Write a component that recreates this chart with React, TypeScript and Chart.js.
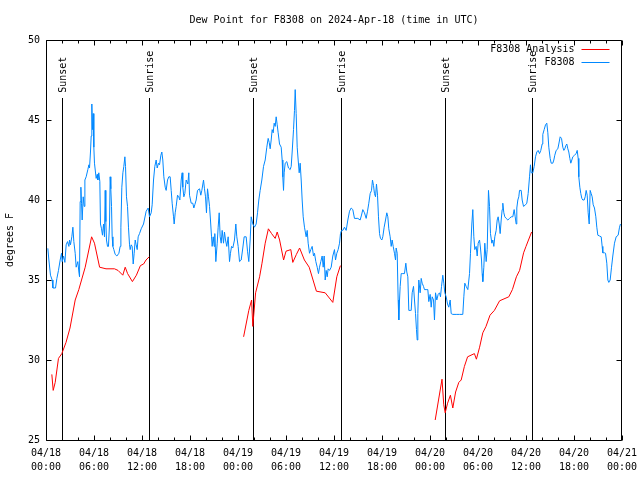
import React, { useEffect, useRef } from "react";
import { Chart, registerables } from "chart.js";

Chart.register(...registerables);

const TITLE = "Dew Point for F8308 on 2024-Apr-18 (time in UTC)";
const Y_TITLE = "degrees F";
const ANALYSIS_LABEL = "F8308 Analysis";
const STATION_LABEL = "F8308";
const ANALYSIS_COLOR = "#ff0000";
const STATION_COLOR = "#0088ff";

// x axis: hours since 2024-04-18 00:00 UTC
const X_MIN = 0;
const X_MAX = 72;
const xTickHours = [0, 6, 12, 18, 24, 30, 36, 42, 48, 54, 60, 66, 72];
const xTickLabels = [
  ["04/18", "00:00"], ["04/18", "06:00"], ["04/18", "12:00"], ["04/18", "18:00"],
  ["04/19", "00:00"], ["04/19", "06:00"], ["04/19", "12:00"], ["04/19", "18:00"],
  ["04/20", "00:00"], ["04/20", "06:00"], ["04/20", "12:00"], ["04/20", "18:00"],
  ["04/21", "00:00"],
];
const xMinorTickHours = [
  0, 2, 4, 6, 8, 10, 12, 14, 16, 18, 20, 22, 24, 26, 28, 30, 32, 34, 36,
  38, 40, 42, 44, 46, 48, 50, 52, 54, 56, 58, 60, 62, 64, 66, 68, 70, 72,
];
const yTicks = [25, 30, 35, 40, 45, 50];
const Y_MIN = 25;
const Y_MAX = 50;

// Sun events (hours) and labels
const sunEventHours = [1.98, 12.86, 25.87, 36.88, 49.89, 60.77];
const sunEventLabels = ["Sunset", "Sunrise", "Sunset", "Sunrise", "Sunset", "Sunrise"];
const SUN_LINE_TOP = 46.35;
const SUN_LABEL_START = 46.7;

// F8308 Analysis (red), null = gap
const analysisHours = [
  0.73, 0.9, 1.15, 1.56, 1.98, 2.5, 3.0, 3.65, 4.1, 4.9, 5.7, 6.06, 6.7, 7.5, 8.56, 9.0, 9.6, 9.9,
  10.2, 10.8, 11.3, 11.8, 12.2, 12.5, 12.9,
  18.0,
  24.7, 25.35, 25.7, 25.85, 26.2, 26.7, 27.0, 27.4, 27.8, 28.2, 28.65, 28.9, 29.2, 29.7, 30.0, 30.6,
  30.85, 31.3, 31.7, 32.3, 32.9, 33.8, 34.9, 35.85, 36.35, 36.8,
  42.0,
  48.65, 49.5, 49.72, 49.9, 50.2, 50.55, 50.85, 51.2, 51.6, 51.9, 52.3, 52.7, 53.55, 53.8, 54.2, 54.6,
  55.0, 55.5, 56.05, 56.7, 57.85, 58.3, 58.8, 59.2, 59.7, 60.0, 60.7,
];
const analysisValues = [
  29.1, 28.1, 28.6, 30.1, 30.4, 31.1, 32.0, 33.75, 34.4, 35.8, 37.7, 37.3, 35.8, 35.7, 35.7, 35.6, 35.3, 35.8,
  35.4, 34.9, 35.3, 35.9, 36.0, 36.25, 36.45,
  null,
  31.45, 33.1, 33.75, 32.1, 34.2, 35.2, 36.05, 37.3, 38.2, 37.9, 37.6, 38.0, 37.5, 36.25, 36.8, 36.9,
  36.1, 36.6, 37.0, 36.25, 35.8, 34.3, 34.2, 33.6, 35.2, 35.9,
  null,
  26.25, 28.8, 27.2, 26.7, 27.3, 27.8, 27.0, 28.0, 28.6, 28.75, 29.6, 30.2, 30.4, 30.05, 30.8, 31.7,
  32.1, 32.8, 33.1, 33.7, 33.95, 34.4, 35.2, 35.6, 36.7, 37.1, 38.0,
];

// F8308 station observations (blue)
const stationHours = [
  0.23, 0.36, 0.56, 0.77, 0.86, 1.19, 1.36, 1.56, 1.77, 1.94, 2.02, 2.19, 2.36, 2.52, 2.69, 2.86, 2.94,
  3.06, 3.23, 3.36, 3.48, 3.65, 3.77, 3.98, 4.11, 4.19, 4.27, 4.36, 4.44, 4.52, 4.65, 4.77, 4.86, 5.02,
  5.23, 5.36, 5.44, 5.56, 5.65, 5.73, 5.81, 5.9, 5.98, 6.06, 6.27, 6.4, 6.48, 6.6, 6.73, 6.81, 6.94,
  7.06, 7.19, 7.31, 7.4, 7.48, 7.56, 7.69, 7.81, 7.94, 8.02, 8.1, 8.19, 8.27, 8.36, 8.48, 8.65, 8.86,
  9.11, 9.27, 9.36, 9.48, 9.61, 9.73, 9.86, 9.94, 10.06, 10.19, 10.31, 10.44, 10.52, 10.65, 10.77, 10.9,
  11.02, 11.15, 11.27, 11.4, 11.52,
  11.69, 11.9, 12.19, 12.52, 12.77, 12.94, 13.15, 13.27, 13.44, 13.6, 13.77, 13.9, 14.06, 14.19, 14.36,
  14.48, 14.6, 14.73, 14.9, 15.02, 15.19, 15.35, 15.52, 15.65, 15.77, 15.94, 16.02, 16.15, 16.27, 16.44,
  16.6, 16.73, 16.9, 17.02, 17.1, 17.23, 17.35, 17.52, 17.73, 17.85, 17.94, 18.15, 18.35, 18.48, 18.6,
  18.77, 18.94, 19.19, 19.35, 19.48, 19.69, 19.81, 19.94, 20.06, 20.19, 20.31, 20.44, 20.56, 20.69, 20.77,
  20.9, 21.02, 21.1, 21.23, 21.4, 21.52, 21.65, 21.77, 21.9, 22.02, 22.19, 22.31, 22.44, 22.6, 22.77,
  22.94, 23.06, 23.19, 23.35, 23.56, 23.73, 23.85, 24.02,
  24.19, 24.4, 24.6, 24.77, 25.02, 25.19, 25.35, 25.52, 25.65, 25.85, 26.06, 26.27, 26.44, 26.6, 26.77,
  26.98, 27.19, 27.4, 27.6, 27.77, 27.9, 28.02, 28.15, 28.27, 28.4, 28.52, 28.65, 28.77, 28.9, 29.02,
  29.19, 29.4, 29.52, 29.6, 29.69, 29.77, 29.9, 30.1, 30.31, 30.52, 30.65, 30.77, 30.94, 31.06, 31.15,
  31.27, 31.4, 31.52, 31.65, 31.77, 31.9, 32.02, 32.15, 32.31, 32.52, 32.65, 32.77, 32.94, 33.1, 33.27,
  33.44, 33.56, 33.73, 33.9, 34.06, 34.19, 34.35, 34.52, 34.65, 34.77, 34.9, 35.02, 35.15, 35.27,
  35.44, 35.65, 35.85, 36.06, 36.19, 36.35, 36.52, 36.69, 36.81, 36.94, 37.1, 37.31, 37.52, 37.73, 37.94,
  38.15, 38.35, 38.56, 38.98, 39.27, 39.44, 39.6, 39.81, 40.02, 40.19, 40.35, 40.52, 40.69, 40.81, 40.94,
  41.06, 41.19, 41.31, 41.44, 41.56, 41.69, 41.81, 41.98, 42.1, 42.27, 42.44, 42.6, 42.73, 42.85, 43.02,
  43.15, 43.27, 43.4, 43.56, 43.69, 43.77, 43.9, 44.02, 44.1, 44.19, 44.27, 44.4, 44.6, 44.81, 44.98,
  45.1, 45.23, 45.35, 45.52, 45.65, 45.77, 45.94, 46.06, 46.19, 46.31, 46.4, 46.48, 46.6,
  46.77, 46.9, 47.02, 47.19, 47.31, 47.52, 47.73, 47.85, 48.02, 48.15, 48.27, 48.44, 48.56, 48.69, 48.85,
  49.02, 49.19, 49.31, 49.44, 49.6, 49.73, 49.85, 50.02, 50.19, 50.35, 50.52, 50.65, 50.85, 51.27, 51.69,
  52.1, 52.23, 52.35, 52.52, 52.73, 52.94, 53.06, 53.23, 53.35, 53.48, 53.6, 53.77, 53.9, 54.02, 54.19,
  54.31, 54.44, 54.52, 54.6, 54.73, 54.85, 55.02, 55.15, 55.31, 55.44, 55.56, 55.73, 55.85, 55.98, 56.1,
  56.27, 56.4, 56.52, 56.65, 56.77, 56.9, 57.02, 57.1, 57.23, 57.35, 57.52, 57.73, 57.94, 58.15, 58.35,
  58.52, 58.65, 58.77, 58.85, 58.98, 59.1,
  59.19, 59.4, 59.52, 59.69, 59.94, 60.1, 60.27, 60.44, 60.56, 60.65, 60.85, 61.02, 61.19, 61.35, 61.52,
  61.69, 61.85, 62.02, 62.1, 62.27, 62.44, 62.6, 62.73, 62.85, 63.02, 63.15, 63.35, 63.48, 63.6, 63.77,
  63.98, 64.1, 64.27, 64.44, 64.6, 64.73, 64.85, 64.98, 65.1, 65.23, 65.35, 65.48, 65.6, 65.73, 65.85,
  66.06, 66.27, 66.4, 66.52, 66.6, 66.73, 66.85, 66.98, 67.1, 67.27, 67.4, 67.52, 67.65, 67.77, 67.9,
  68.02, 68.15, 68.27, 68.4, 68.56, 68.73, 68.85, 68.98, 69.19, 69.4, 69.52, 69.6, 69.81, 69.94, 70.1,
  70.23, 70.35, 70.52, 70.69, 70.85, 71.06, 71.27, 71.52, 71.69, 71.81,
];
const stationValues = [
  36.98, 36.25, 35.3, 35.0, 34.5, 34.5, 35.1, 35.6, 36.25, 36.67, 36.15, 36.5, 36.1, 37.2, 37.4, 37.1, 37.5,
  37.2, 37.7, 38.3, 37.4, 36.67, 35.8, 36.15, 35.5, 35.2, 39.9, 40.8, 39.8, 38.75, 40.2, 39.6, 41.25, 41.45,
  41.9, 42.2, 42.0, 43.0, 44.0, 46.0, 44.4, 45.4, 43.3, 42.3, 41.35, 41.6, 41.25, 41.7, 41.15, 38.5, 38.2,
  37.8, 38.5, 37.7, 40.6, 38.65, 37.5, 37.1, 37.1, 38.5, 41.45, 40.7, 39.6, 37.7, 37.1, 36.9, 36.6, 36.5,
  36.67, 37.1, 38.3, 40.8, 41.7, 42.1, 42.7, 42.1, 40.2, 39.6, 38.3, 37.2, 36.9, 37.2, 37.1, 36.0,
  36.67, 37.5, 37.2, 36.9, 37.7,
  37.9, 38.2, 38.5, 39.3, 39.5, 38.95, 39.2, 39.7, 41.25, 42.1, 42.5, 42.0, 42.3, 42.2, 42.8,
  43.0, 42.5, 41.45, 40.8, 40.6, 41.25, 41.45, 41.45, 40.6, 39.8, 38.95, 38.5, 39.2, 39.6, 40.3,
  40.2, 40.0, 41.25, 41.7, 40.8, 40.2, 40.4, 41.25, 41.0, 41.7, 40.3, 39.8, 39.8, 39.5, 39.7,
  40.0, 40.6, 40.7, 40.3, 40.6, 41.25, 40.7, 40.2, 39.2, 40.7, 40.2, 39.6, 38.75, 37.7, 37.1,
  37.7, 37.1, 37.9, 36.15, 37.3, 38.3, 39.2, 37.7, 37.3, 38.1, 37.3, 38.0, 37.5, 37.1, 37.7,
  36.15, 36.67, 37.1, 37.0, 37.5, 38.5, 37.7, 37.1,
  36.15, 36.25, 37.0, 37.7, 37.7, 36.8, 36.15, 37.5, 38.95, 38.5, 38.3, 38.5, 39.2, 40.0, 40.6,
  41.25, 42.1, 42.5, 43.3, 43.85, 43.6, 43.2, 43.75, 44.4, 44.2, 44.8, 44.6, 45.2, 44.7, 44.2,
  43.5, 43.3, 42.5, 41.45, 40.6, 41.7, 42.3, 42.4, 42.0, 41.9, 42.1, 43.0, 44.4, 45.6, 46.9,
  45.4, 43.3, 42.5, 41.7, 42.3, 41.25, 40.0, 38.95, 38.3, 37.7, 38.1, 37.3, 36.67, 36.9, 37.1,
  36.5, 36.67, 36.15, 35.8, 35.4, 35.8, 36.15, 36.5, 35.8, 36.5, 35.0, 35.6, 35.2, 35.7,
  35.6, 35.8, 36.5, 36.9, 36.25, 36.67, 36.9, 37.3, 37.9, 38.1, 38.1, 38.3, 38.1, 38.75, 39.3,
  39.5, 39.4, 38.85, 38.85, 38.75, 39.06, 39.4, 39.2, 38.85, 39.3, 39.8, 40.4, 40.6, 41.25, 40.9,
  40.4, 40.2, 41.0, 40.3, 38.95, 37.9, 37.6, 37.5, 37.7, 38.3, 38.75, 39.2, 38.95, 38.2, 37.7,
  37.1, 37.5, 37.1, 36.67, 36.25, 37.0, 36.67, 33.75, 32.5, 33.75, 34.6, 35.4, 35.4, 35.4, 36.05,
  35.5, 35.2, 33.1, 33.1, 33.1, 34.2, 34.6, 33.75, 32.9, 31.9, 31.25, 32.9, 35.0,
  34.2, 35.1, 34.8, 34.6, 34.4, 34.4, 34.4, 33.65, 34.1, 33.3, 33.95, 33.75, 32.5, 34.2, 33.75,
  34.1, 34.2, 33.95, 34.6, 35.3, 34.8, 34.2, 33.95, 33.5, 33.3, 33.75, 32.9, 32.85, 32.85, 32.85,
  32.85, 33.95, 34.8, 34.6, 34.4, 35.4, 36.67, 38.5, 39.4, 37.7, 36.9, 37.1, 36.5, 37.3, 37.5,
  37.0, 36.25, 35.4, 34.9, 35.8, 37.3, 36.15, 36.9, 40.6, 39.6, 37.9, 37.3, 37.5, 37.1, 37.7,
  38.1, 38.75, 38.95, 38.5, 37.9, 38.75, 39.4, 39.8, 39.2, 38.95, 38.85, 38.75, 38.85, 38.95, 38.95,
  39.4, 38.95, 38.5, 39.5, 40.0, 40.2,
  40.6, 40.6, 40.0, 39.6, 39.7, 39.8, 40.4, 41.45, 42.2, 41.7, 41.7, 42.1, 42.7, 43.0, 43.1,
  42.9, 43.1, 43.5, 44.1, 44.4, 44.7, 44.8, 44.2, 43.3, 42.6, 42.3, 42.3, 42.5, 42.8, 43.1,
  43.2, 43.5, 43.95, 43.85, 43.3, 43.1, 43.2, 43.4, 43.5, 43.2, 43.0, 42.6, 42.3, 42.5, 42.7,
  42.8, 42.9, 43.1, 42.6, 41.45, 40.8, 40.4, 40.1, 40.0, 40.0, 40.2, 40.6, 40.3, 39.2, 38.5,
  40.6, 40.4, 40.2, 39.7, 39.5, 38.95, 38.3, 37.8, 37.75, 37.7, 37.1, 36.7, 36.7, 36.67, 36.05,
  35.0, 34.85, 35.0, 35.8, 36.5, 37.3, 37.7, 37.8, 38.3, 38.5,
];

const MONO = "'DejaVu Sans Mono', monospace";

const gnuplotDecor = {
  id: "gnuplotDecor",
  beforeDatasetsDraw(chart: any) {
    const { ctx, chartArea: a, scales } = chart;
    const xs = scales.x;
    const ys = scales.y;
    const B = Math.floor(a.bottom) + 0.5;
    ctx.save();
    ctx.strokeStyle = "#000";
    ctx.lineWidth = 1;
    ctx.fillStyle = "#000";
    ctx.font = `10px ${MONO}`;
    const topPx = Math.round(ys.getPixelForValue(SUN_LINE_TOP));
    const labelPx = ys.getPixelForValue(SUN_LABEL_START);
    sunEventHours.forEach((h, i) => {
      const px = Math.round(xs.getPixelForValue(h)) + 0.5;
      ctx.beginPath();
      ctx.moveTo(px, topPx);
      ctx.lineTo(px, B);
      ctx.stroke();
      ctx.save();
      ctx.translate(px + 0.5, labelPx);
      ctx.rotate(-Math.PI / 2);
      ctx.textAlign = "left";
      ctx.textBaseline = "middle";
      ctx.fillText(sunEventLabels[i], 0, 0);
      ctx.restore();
    });
    ctx.restore();
  },
  afterDraw(chart: any) {
    const { ctx, chartArea: a, scales } = chart;
    const xs = scales.x;
    const ys = scales.y;
    const L = Math.floor(a.left) + 0.5;
    const R = Math.ceil(a.right) - 0.5;
    const T = Math.floor(a.top) + 0.5;
    const B = Math.floor(a.bottom) + 0.5;
    ctx.save();
    ctx.strokeStyle = "#000";
    ctx.lineWidth = 1;
    ctx.beginPath();
    ctx.rect(L, T, R - L, B - T);
    for (const h of xMinorTickHours) {
      const px = Math.round(xs.getPixelForValue(h)) + 0.5;
      const len = xTickHours.includes(h) ? 5 : 3;
      ctx.moveTo(px, B);
      ctx.lineTo(px, B - len);
      ctx.moveTo(px, T);
      ctx.lineTo(px, T + len);
    }
    for (const v of yTicks) {
      const py = Math.round(ys.getPixelForValue(v)) + 0.5;
      ctx.moveTo(L, py);
      ctx.lineTo(L + 5, py);
      ctx.moveTo(R, py);
      ctx.lineTo(R - 5, py);
    }
    ctx.stroke();

    // legend (gnuplot style: text then sample line, top right inside)
    const legend = [
      { label: ANALYSIS_LABEL, color: ANALYSIS_COLOR },
      { label: STATION_LABEL, color: STATION_COLOR },
    ];
    ctx.font = `10px ${MONO}`;
    ctx.textAlign = "right";
    ctx.textBaseline = "middle";
    legend.forEach((item, i) => {
      const yy = Math.round(a.top) + 9 + i * 13;
      ctx.fillStyle = "#000";
      ctx.fillText(item.label, R - 47, yy);
      ctx.strokeStyle = item.color;
      ctx.beginPath();
      ctx.moveTo(R - 40, yy + 0.5);
      ctx.lineTo(R - 12, yy + 0.5);
      ctx.stroke();
    });
    ctx.restore();
  },
};

export default function App() {
  const canvasRef = useRef<HTMLCanvasElement | null>(null);

  useEffect(() => {
    if (!canvasRef.current) return;
    const analysisData = analysisHours.map((h, i) => ({ x: h, y: analysisValues[i] }));
    const stationData = stationHours.map((h, i) => ({ x: h, y: stationValues[i] }));
    const chart = new Chart(canvasRef.current, {
      type: "line",
      data: {
        datasets: [
          {
            label: ANALYSIS_LABEL,
            data: analysisData as any,
            borderColor: ANALYSIS_COLOR,
            backgroundColor: ANALYSIS_COLOR,
            borderWidth: 1,
            pointRadius: 0,
            tension: 0,
            spanGaps: false,
            order: 1,
          },
          {
            label: STATION_LABEL,
            data: stationData as any,
            borderColor: STATION_COLOR,
            backgroundColor: STATION_COLOR,
            borderWidth: 1,
            pointRadius: 0,
            tension: 0,
            order: 0,
          },
        ],
      },
      options: {
        responsive: false,
        animation: false,
        devicePixelRatio: 1,
        layout: { padding: { left: 0, right: 18, top: 0, bottom: 0 } },
        plugins: {
          legend: { display: false },
          tooltip: { enabled: false },
          title: {
            display: true,
            text: TITLE,
            fullSize: false,
            color: "#000",
            font: { family: MONO, size: 10, weight: "normal", lineHeight: 1.2 },
            padding: { top: 14, bottom: 14 },
          },
        },
        scales: {
          x: {
            type: "linear",
            min: X_MIN,
            max: X_MAX,
            grid: { display: false, drawTicks: false },
            border: { display: false },
            afterBuildTicks: (scale: any) => {
              scale.ticks = xTickHours.map((v) => ({ value: v }));
            },
            afterFit: (scale: any) => {
              scale.height = 40;
              scale.paddingLeft = 0;
              scale.paddingRight = 0;
            },
            ticks: {
              autoSkip: false,
              maxRotation: 0,
              minRotation: 0,
              padding: 6,
              color: "#000",
              font: { family: MONO, size: 10, lineHeight: 1.45 },
              callback: (value: any) => {
                const idx = xTickHours.indexOf(Number(value));
                return idx >= 0 ? xTickLabels[idx] : "";
              },
            },
          },
          y: {
            type: "linear",
            min: Y_MIN,
            max: Y_MAX,
            grid: { display: false, drawTicks: false },
            border: { display: false },
            afterBuildTicks: (scale: any) => {
              scale.ticks = yTicks.map((v) => ({ value: v }));
            },
            afterFit: (scale: any) => {
              scale.width = 46;
              scale.paddingTop = 0;
              scale.paddingBottom = 0;
            },
            ticks: {
              padding: 6,
              color: "#000",
              font: { family: MONO, size: 10 },
              callback: (value: any) => String(value),
            },
            title: {
              display: true,
              text: Y_TITLE,
              color: "#000",
              font: { family: MONO, size: 10, lineHeight: 1.2 },
              padding: { top: 4, bottom: 0 },
            },
          },
        },
      },
      plugins: [gnuplotDecor],
    });
    return () => chart.destroy();
  }, []);

  return (
    <div style={{ position: "fixed", left: 0, top: 0, width: 640, height: 480, background: "#fff" }}>
      <canvas ref={canvasRef} width={640} height={480} style={{ display: "block" }} />
    </div>
  );
}
